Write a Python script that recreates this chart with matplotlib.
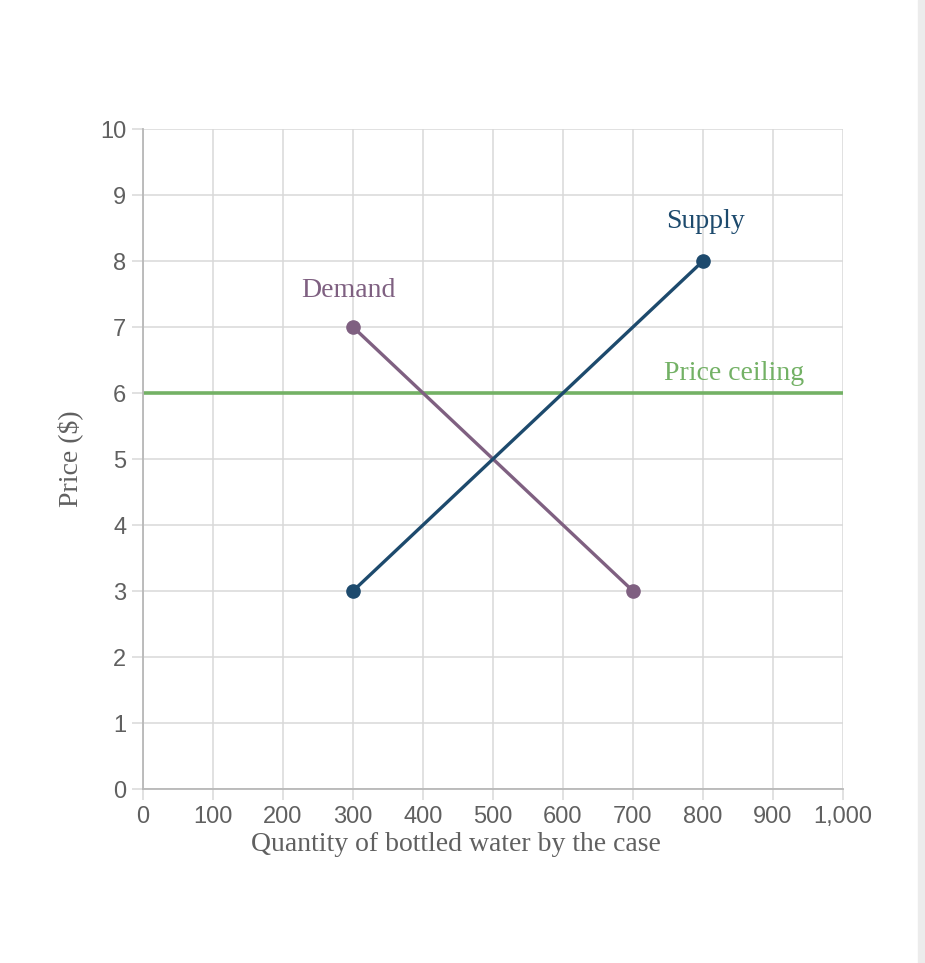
import numpy as np
import matplotlib.pyplot as plt
from matplotlib.patches import Rectangle

# data
supply_q = [300, 800]
supply_p = [3, 8]
demand_q = [300, 700]
demand_p = [7, 3]
ceiling_price = 6
x_ticks = [0, 100, 200, 300, 400, 500, 600, 700, 800, 900, 1000]
x_labels = ['0', '100', '200', '300', '400', '500', '600', '700', '800', '900', '1,000']
y_ticks = list(range(0, 11))

c_supply = '#1d4a6d'
c_demand = '#7f6081'
c_ceiling = '#73b165'
c_grid = '#d8d8d8'
c_axis = '#b8b8b8'
c_text = '#606060'

fig = plt.figure(figsize=(9.25, 9.63), dpi=100)
ax = fig.add_axes([143/925, 1-789/963, 700/925, 660/963])

ax.set_xlim(0, 1000)
ax.set_ylim(0, 10)
ax.set_xticks(x_ticks)
ax.set_xticklabels(x_labels)
ax.set_yticks(y_ticks)
ax.grid(True, color=c_grid, linewidth=1.1, zorder=0)
ax.tick_params(colors=c_grid, labelcolor=c_text, length=8, width=1.1,
               labelsize=17, pad=4)
for lab in ax.get_xticklabels() + ax.get_yticklabels():
    lab.set_family('Liberation Sans')
for s in ['top', 'right']:
    ax.spines[s].set_visible(False)
for s in ['left', 'bottom']:
    ax.spines[s].set_color(c_axis)
    ax.spines[s].set_linewidth(1.3)

# price ceiling
ax.axhline(ceiling_price, color=c_ceiling, linewidth=2.6, zorder=2)
ax.plot(demand_q, demand_p, color=c_demand, linewidth=2.4, marker='o',
        markersize=9.5, zorder=3, clip_on=False)
ax.plot(supply_q, supply_p, color=c_supply, linewidth=2.4, marker='o',
        markersize=9.5, zorder=4, clip_on=False)

ax.text(293, 7.55, 'Demand', color=c_demand, fontsize=20, family='Liberation Serif',
        ha='center', va='center')
ax.text(803, 8.6, 'Supply', color=c_supply, fontsize=20, family='Liberation Serif',
        ha='center', va='center')
ax.text(844, 6.3, 'Price ceiling', color=c_ceiling, fontsize=20,
        family='Liberation Serif', ha='center', va='center', clip_on=False)

ax.set_xlabel('Quantity of bottled water by the case', fontsize=20,
              family='Liberation Serif', color=c_text, labelpad=5)
ax.xaxis.set_label_coords(0.447, -0.065)
ax.set_ylabel('Price ($)', fontsize=20, family='Liberation Serif',
              color=c_text, labelpad=12)

# scrollbar strip at the right edge
fig.patches.append(Rectangle((918/925, 0), 7/925, 1, transform=fig.transFigure,
                             color='#ececec', zorder=0))

fig.savefig('out.png', dpi=100)
